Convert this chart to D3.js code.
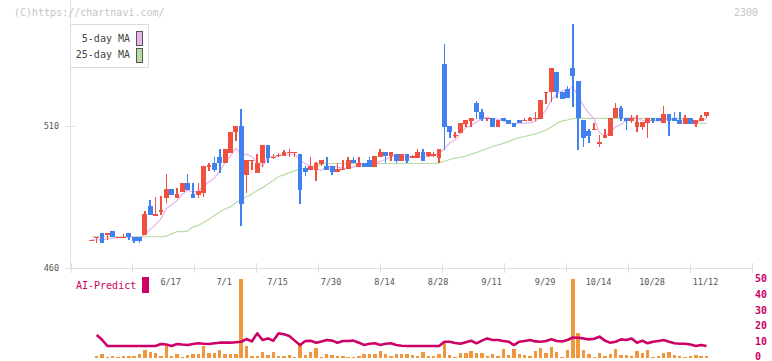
<!DOCTYPE html>
<html><head><meta charset="utf-8">
<script src="https://cdn.jsdelivr.net/npm/d3@7"></script>
<style>
html,body{margin:0;padding:0;background:#fff;}
svg{display:block;font-family:"DejaVu Sans Mono",monospace;}
</style></head><body>
<svg id="c" width="772" height="361"></svg>
<script>
const opens=[469.6,470.6,472.0,471.8,473.0,470.6,470.7,472.0,470.9,470.9,
471.7,481.8,478.6,479.9,484.8,487.8,484.8,486.9,489.8,486.0,
485.8,486.5,495.8,496.9,499.0,496.9,500.6,507.8,510.0,492.8,
497.8,493.6,496.9,503.0,498.8,499.5,499.5,500.6,500.5,499.8,
495.1,494.6,494.6,496.7,495.9,495.9,493.7,494.6,494.7,498.0,
495.7,496.8,498.0,495.7,499.0,500.8,499.4,499.8,497.8,499.8,
498.9,498.8,500.8,499.6,499.8,498.8,531.8,510.0,506.7,507.7,
510.8,511.8,518.0,514.8,512.6,512.7,509.8,512.7,512.1,511.0,
512.1,511.9,511.7,512.6,512.5,521.7,521.8,528.9,521.8,523.0,
530.1,525.8,512.1,508.0,508.8,504.0,505.9,506.6,512.7,516.0,
512.7,511.8,509.8,509.8,510.9,512.7,512.7,510.9,513.9,512.7,
511.8,510.8,512.7,510.8,511.8,513.6];
const highs=[469.8,470.8,472.0,472.0,473.0,470.8,472.0,472.0,470.9,470.9,
480.0,483.9,485.0,485.5,493.1,487.8,488.0,489.8,493.1,489.8,
489.8,495.9,496.9,499.0,501.8,501.8,507.8,510.0,516.0,498.0,
498.0,500.0,503.0,503.0,500.2,500.5,501.5,501.8,500.7,499.8,
496.0,499.2,497.5,498.0,499.2,495.9,496.8,498.0,499.2,499.2,
499.2,496.8,499.2,499.2,502.0,500.8,500.8,499.8,499.8,499.8,
499.8,501.9,501.9,500.8,500.8,501.9,538.9,510.0,507.8,511.0,
512.1,512.7,518.8,516.0,512.7,512.7,512.1,512.7,512.1,511.0,
512.1,512.7,513.2,514.8,518.9,521.8,530.1,528.9,521.8,524.1,
545.9,525.8,512.1,508.9,510.9,506.8,508.9,512.7,518.1,516.9,
512.7,513.9,513.9,511.2,512.7,512.7,512.7,517.2,513.9,514.8,
514.8,513.9,512.7,511.8,513.9,514.8];
const lows=[469.6,468.9,468.9,469.9,470.8,470.6,470.7,469.9,468.9,468.9,
471.7,478.8,478.6,478.7,482.8,485.8,484.8,486.9,487.5,484.8,
484.8,485.0,494.3,493.7,493.6,496.9,500.6,504.8,474.9,486.5,
494.5,493.6,495.5,496.9,498.4,499.0,499.5,499.2,499.0,482.5,
492.5,494.6,490.7,496.0,494.5,492.9,493.7,494.6,494.7,496.8,
495.7,495.7,495.7,495.7,499.0,496.8,497.8,496.8,497.8,496.8,
498.9,498.8,497.7,499.2,499.0,496.9,501.6,505.9,505.9,507.7,
509.8,509.8,512.5,511.7,511.7,509.8,509.8,511.7,510.6,509.8,
510.9,511.9,511.7,511.7,512.5,517.7,518.3,519.7,519.5,519.7,
516.8,501.5,502.7,503.9,508.8,502.7,505.9,506.6,512.7,511.8,
508.6,510.9,507.8,508.6,505.9,510.9,511.8,510.9,506.6,511.8,
510.8,510.8,510.8,509.8,511.8,512.7];
const closes=[469.8,470.8,468.9,472.0,470.8,470.8,470.9,470.8,469.6,469.6,
479.0,478.8,478.8,480.1,487.8,485.8,486.0,489.8,487.5,484.8,
487.1,495.9,496.0,494.5,496.9,501.8,507.8,510.0,482.6,498.0,
498.0,496.9,503.0,498.9,499.0,499.7,500.7,500.8,500.7,487.5,
493.7,495.9,496.8,498.0,494.5,493.7,494.7,494.8,498.0,496.8,
496.8,495.7,495.7,499.2,500.8,499.4,500.8,497.8,499.8,497.8,
499.1,500.8,497.7,500.8,499.9,501.9,509.8,507.8,506.8,511.0,
512.1,512.7,514.8,512.5,512.7,509.8,512.1,511.7,510.6,509.8,
510.9,512.1,512.7,512.7,518.9,521.8,530.1,521.8,519.5,519.7,
527.7,512.7,505.9,506.6,508.9,504.1,506.8,512.7,516.0,512.7,
511.8,512.7,511.2,511.2,512.7,511.8,511.8,513.9,511.8,511.8,
510.8,512.7,510.8,511.8,512.7,514.8];
const ma5=[469.9,469.9,469.9,470.2,470.5,470.7,470.7,471.1,470.6,470.3,
472.0,473.6,475.2,477.3,480.9,482.3,483.7,485.9,487.4,486.8,
487.0,489.0,490.3,491.7,494.1,497.0,499.4,502.2,499.8,500.0,
499.3,497.1,495.7,499.0,499.2,499.5,500.3,499.8,500.2,497.9,
496.7,495.7,494.9,494.4,495.8,495.8,495.5,495.1,495.1,495.6,
496.2,496.4,496.6,496.8,497.6,498.2,499.2,499.6,499.7,499.1,
499.1,499.1,499.0,499.2,499.7,500.2,502.0,504.0,505.2,507.5,
509.5,510.1,511.5,512.6,513.0,512.5,512.4,511.8,511.4,510.8,
511.0,511.0,511.2,511.6,513.5,515.6,519.2,521.1,522.4,522.6,
523.8,520.3,517.1,514.5,512.4,507.6,506.5,507.8,509.7,510.5,
512.0,513.2,512.9,511.9,511.9,511.9,511.7,512.3,512.4,512.2,
512.0,512.2,511.6,511.6,511.8,512.6];
const ma25=[471.0,471.0,471.0,471.0,471.0,471.0,471.0,471.0,471.0,471.0,
471.0,471.0,471.0,471.0,471.2,472.0,472.8,472.8,473.0,474.5,
475.0,476.0,477.2,478.5,479.8,480.8,481.6,483.0,484.2,485.1,
486.0,487.3,488.3,489.6,490.8,492.2,492.8,493.6,494.2,494.8,
495.1,495.3,495.8,496.5,496.8,496.8,496.8,496.8,496.8,496.8,
496.8,496.8,496.8,496.8,496.8,496.8,496.8,496.8,496.8,496.8,
496.8,496.8,496.8,496.8,496.8,497.0,497.6,498.2,498.7,499.0,
499.4,500.0,500.6,501.4,502.0,502.8,503.3,503.9,504.6,505.3,
505.9,506.3,506.8,507.2,507.8,508.6,509.6,511.0,511.8,512.1,
512.6,512.7,512.7,512.7,512.7,512.7,512.7,512.7,512.7,512.7,
512.7,512.7,512.7,512.7,512.7,512.7,512.7,512.7,512.7,512.7,
512.7,512.4,511.8,511.2,511.0,510.9];
const volume=[0,1.5,2.5,0.8,1.5,0.8,1.1,1.5,1.5,2.3,
5.1,4.0,3.4,1.5,7.6,1.2,2.5,0.8,1.9,2.5,
2.5,7.6,3.0,3.4,5.1,2.3,2.5,2.5,50,7.6,
1.5,1.1,3.8,1.9,3.8,1.1,1.1,1.9,0.8,9.3,
1.9,3.8,6.5,0.8,2.5,1.9,1.5,1.5,0.8,0.8,
1.5,2.3,2.5,2.5,4.6,2.5,1.5,2.3,2.3,2.3,
1.9,1.3,3.8,1.3,1.3,2.3,9.3,1.9,0.8,3.2,
3.2,4.6,3.2,3.2,1.3,2.5,1.3,5.7,1.9,5.7,
2.5,1.9,1.3,4.6,6.5,3.2,7.2,3.8,0.8,5.1,
50,16.0,5.1,2.3,0.8,3.2,1.3,2.3,5.7,1.9,
1.9,1.3,4.6,3.2,5.1,0.8,1.3,3.2,3.8,1.9,
1.5,0.8,1.5,1.9,1.3,1.3];
const aiPredict=[null,14.6,11.5,7.6,7.6,7.6,7.6,7.6,7.6,7.6,
7.6,7.6,7.6,8.9,8.5,7.6,8.9,8.5,8.2,8.9,
9.3,9.0,8.9,9.3,9.7,9.7,9.7,10.0,10.3,12.0,
10.5,15.6,11.4,12.4,10.9,15.6,15.0,13.9,11.0,8.2,
10.8,10.9,9.7,10.5,11.4,11.0,9.7,10.8,10.8,11.0,
9.7,8.2,9.0,9.3,8.2,9.0,9.3,8.2,7.8,7.6,
7.6,7.6,7.6,7.6,7.6,7.6,10.3,10.3,9.5,9.0,
10.0,10.9,9.3,11.0,12.4,11.4,11.4,10.8,10.3,8.2,
10.3,10.8,11.4,10.5,10.3,10.8,11.8,10.8,10.5,11.4,
13.0,12.8,12.4,11.8,12.2,13.5,11.0,9.7,10.3,11.8,
11.4,12.4,9.7,10.9,9.3,10.3,10.8,11.4,10.3,9.3,
9.0,9.0,8.5,7.6,8.2,7.6];
const tickIdx=[15,25,35,45,55,65,75,85,95,105,115];
const tickLabels=["6/17","7/1","7/15","7/30","8/14","8/28","9/11","9/29","10/14","10/28","11/12"];
const priceTicks=[460,510];
const volTicks=[0,10,20,30,40,50];
const legendLabels=["5-day MA","25-day MA"];

const svg=d3.select("#c");
const n=closes.length;
const x=d3.scaleLinear().domain([-4,123.5]).range([70,752]);
const y=d3.scaleLinear().domain([460,510]).range([268,126]);
const v=d3.scaleLinear().domain([0,50]).range([358,279]);
const frame=d3.scaleLinear().domain([0,11]).range([70.5,752]);

const RED="#f05040", BLUE="#4080f0", PINK="#e8b4ec", GREEN="#b8dca8", MAG="#cc0066", ORANGE="#f0963c";

// axes frame
const g=svg.append("g");
g.append("line").attr("x1",70.5).attr("x2",70.5).attr("y1",0).attr("y2",268.5).attr("stroke","#e0e0e0");
g.append("line").attr("x1",65).attr("x2",752).attr("y1",268.5).attr("y2",268.5).attr("stroke","#e0e0e0");
g.selectAll(".ft").data(d3.range(0,12)).join("line")
  .attr("x1",d=>Math.round(frame(d))+0.5).attr("x2",d=>Math.round(frame(d))+0.5)
  .attr("y1",263).attr("y2",273).attr("stroke","#e0e0e0");
g.selectAll(".pt").data(priceTicks).join("line")
  .attr("x1",65).attr("x2",75).attr("y1",d=>Math.round(y(d))+0.5).attr("y2",d=>Math.round(y(d))+0.5).attr("stroke","#e0e0e0");
g.selectAll(".pl").data(priceTicks).join("text")
  .attr("x",59).attr("y",d=>y(d)+3).attr("text-anchor","end").attr("font-size",8.5).attr("fill","#555").text(d=>d);

// header texts
svg.append("text").attr("x",14).attr("y",16).attr("font-size",10).attr("fill","#c4c4c4").text("(C)https://chartnavi.com/");
svg.append("text").attr("x",758).attr("y",16).attr("text-anchor","end").attr("font-size",10).attr("fill","#c4c4c4").text("2300");

// MA lines
const line=(arr)=>d3.line().x((d,i)=>x(i)).y(d=>y(d))(arr);
svg.append("path").attr("d",line(ma25)).attr("fill","none").attr("stroke",GREEN).attr("stroke-width",1.2);
svg.append("path").attr("d",line(ma5)).attr("fill","none").attr("stroke",PINK).attr("stroke-width",1.2);

// candles
const idx=d3.range(n);
const cg=svg.append("g").attr("shape-rendering","crispEdges");
cg.selectAll(".w").data(idx).join("rect")
  .attr("x",i=>x(i)-0.75).attr("width",1.5)
  .attr("y",i=>y(highs[i])).attr("height",i=>Math.max(1,y(lows[i])-y(highs[i])))
  .attr("fill",i=>closes[i]>=opens[i]?RED:BLUE);
cg.selectAll(".b").data(idx).join("rect")
  .attr("x",i=>x(i)-2.4).attr("width",4.8)
  .attr("y",i=>y(Math.max(opens[i],closes[i]))-0.5)
  .attr("height",i=>Math.max(1.5,Math.abs(y(opens[i])-y(closes[i]))+0.5))
  .attr("fill",i=>closes[i]>=opens[i]?RED:BLUE);

// legend
const lg=svg.append("g");
lg.append("rect").attr("x",70.5).attr("y",24.5).attr("width",78).attr("height",43).attr("fill","#fff").attr("stroke","#dcdcdc");
lg.selectAll(".lt").data(legendLabels).join("text")
  .attr("x",130).attr("y",(d,i)=>42+i*16).attr("text-anchor","end").attr("font-size",10).attr("fill","#444").text(d=>d);
lg.selectAll(".ls").data([PINK,GREEN]).join("rect")
  .attr("x",136.5).attr("y",(d,i)=>31.5+i*17).attr("width",6).attr("height",14)
  .attr("fill",d=>d).attr("stroke","#555");

// bottom panel
const bg=svg.append("g").attr("shape-rendering","crispEdges");
bg.selectAll(".vb").data(idx.filter(i=>volume[i]>0)).join("rect")
  .attr("x",i=>x(i)-1.7).attr("width",3.4)
  .attr("y",i=>v(volume[i])).attr("height",i=>v(0)-v(volume[i]))
  .attr("fill",ORANGE);
const aiLine=d3.line().defined(d=>d!=null).x((d,i)=>x(i)).y(d=>v(d));
svg.append("path").attr("d",aiLine(aiPredict)).attr("fill","none").attr("stroke",MAG).attr("stroke-width",2.6).attr("stroke-linejoin","round");

// date labels
svg.selectAll(".dl").data(tickIdx).join("text")
  .attr("x",i=>x(i)-1).attr("y",285).attr("text-anchor","middle").attr("font-size",8.5).attr("fill","#555")
  .text((d,k)=>tickLabels[k]);
// right axis labels
svg.selectAll(".vl").data(volTicks).join("text")
  .attr("x",755).attr("y",d=>Math.min(359.5,v(d)+3)).attr("font-size",10).attr("font-weight","bold").attr("fill",MAG).text(d=>d);
// AI-Predict label
svg.append("text").attr("x",76).attr("y",289).attr("font-size",10).attr("fill",MAG).text("AI-Predict");
svg.append("rect").attr("x",142).attr("y",277).attr("width",7).attr("height",16).attr("fill",MAG);
</script></body></html>
